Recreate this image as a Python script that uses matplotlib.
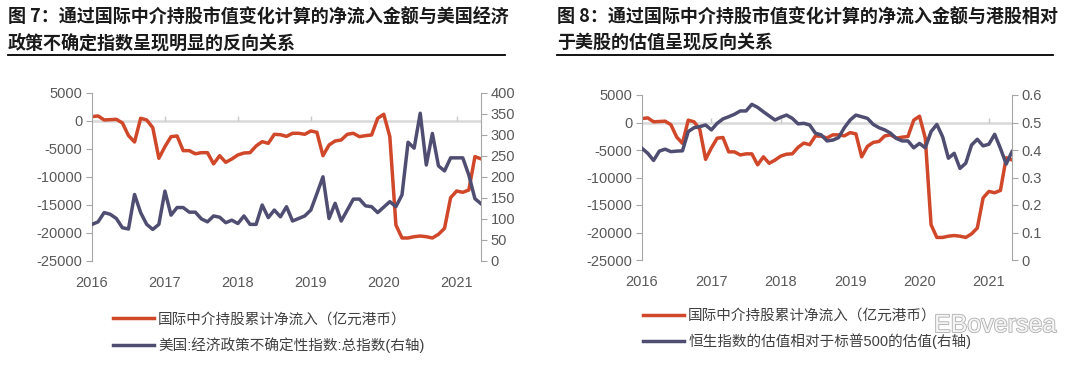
import matplotlib.pyplot as plt
import matplotlib.patheffects as pe
from matplotlib.lines import Line2D
import numpy as np

plt.rcParams['font.family'] = ['Liberation Sans', 'Noto Sans CJK SC', 'DejaVu Sans']
plt.rcParams['axes.unicode_minus'] = False

# monthly data, Jan 2016 .. May 2021
months = np.arange(65)
year_ticks = [0, 12, 24, 36, 48, 60]
year_labels = ['2016', '2017', '2018', '2019', '2020', '2021']

# 国际中介持股累计净流入（亿元港币）
net_inflow = [713, 840, 125, 180, 240, -400, -2650, -3800, 420, 125, -1250, -6700,
              -4630, -2850, -2730, -5340, -5340, -5900, -5700, -5700, -7700, -6240, -7420, -6830,
              -6110, -5760, -5700, -4510, -3740, -4040, -2430, -2500, -2800, -2250, -2250, -2430,
              -1840, -2070, -6240, -4330, -3620, -3440, -2430, -2250, -2850, -2670, -2550, 420,
              1140, -2850, -18590, -20900, -20900, -20670, -20550, -20670, -20900, -20250, -19180, -13720,
              -12530, -12770, -12350, -6410, -6800]

# 美国:经济政策不确定性指数:总指数
epu_index = [87, 93, 115, 111, 101, 79, 76, 158, 115, 87, 75, 87,
             166, 109, 127, 127, 116, 116, 100, 93, 107, 104, 91, 97,
             89, 107, 87, 87, 133, 103, 121, 105, 129, 95, 101, 107,
             121, 160, 200, 101, 137, 95, 121, 147, 147, 131, 129, 115,
             128, 141, 129, 157, 282, 268, 351, 228, 303, 226, 214, 245,
             245, 245, 204, 148, 136]

# 恒生指数的估值相对于标普500的估值
hsi_vs_spx = [0.406, 0.388, 0.362, 0.396, 0.403, 0.394, 0.396, 0.397, 0.467, 0.481, 0.485, 0.491,
              0.473, 0.497, 0.513, 0.521, 0.530, 0.542, 0.542, 0.566, 0.555, 0.539, 0.524, 0.509,
              0.519, 0.527, 0.515, 0.495, 0.497, 0.491, 0.461, 0.455, 0.433, 0.436, 0.445, 0.481,
              0.509, 0.527, 0.521, 0.515, 0.493, 0.481, 0.473, 0.461, 0.442, 0.433, 0.433, 0.408,
              0.424, 0.408, 0.467, 0.493, 0.448, 0.370, 0.388, 0.333, 0.352, 0.418, 0.439, 0.415,
              0.421, 0.457, 0.406, 0.349, 0.394]

red = '#D0472A'
navy = '#4F4E72'
grey = '#A6A6A6'
txt = '#595959'

fig = plt.figure(figsize=(10.8, 3.69), dpi=100)
W, H = 1080, 369


def panel(x0, x1, y0, y1, right_vals, right_lim, right_ticks, right_labels):
    ax = fig.add_axes([x0 / W, 1 - y1 / H, (x1 - x0) / W, (y1 - y0) / H])
    ax2 = ax.twinx()
    ax.axhline(0, color='#D9D9D9', lw=1.8, zorder=0)
    ax.vlines(year_ticks[1:], 0, 850, color='#C8C8C8', lw=1, zorder=0)
    l1, = ax.plot(months, net_inflow, color=red, lw=2.5, solid_joinstyle='round')
    l2, = ax2.plot(months, right_vals, color=navy, lw=2.5, solid_joinstyle='round')
    ax.set_xlim(0, 64)
    ax.set_ylim(-25000, 5000)
    ax.set_yticks(range(-25000, 5001, 5000))
    ax2.set_ylim(*right_lim)
    ax2.set_yticks(right_ticks)
    ax2.set_yticklabels(right_labels)
    ax.set_xticks(year_ticks)
    ax.set_xticklabels(year_labels)
    ax.tick_params(axis='x', length=0, pad=11, labelsize=10.5, labelcolor=txt)
    ax.tick_params(axis='y', length=4, color=grey, pad=3, labelsize=10.5, labelcolor=txt)
    ax2.tick_params(axis='y', length=4, color=grey, pad=3, labelsize=10.5, labelcolor=txt)
    for a in (ax, ax2):
        a.spines['top'].set_visible(False)
        a.spines['bottom'].set_visible(False)
        a.spines['left'].set_color(grey)
        a.spines['right'].set_color(grey)
    ax2.spines['left'].set_visible(False)
    ax.spines['right'].set_visible(False)
    return l1, l2


def title(x, lines, x_end):
    fig.text(x / W, 1 - 17 / H, lines[0], fontsize=13, fontweight='bold',
             color='#1a1a1a', va='center', family=['Noto Sans CJK SC', 'DejaVu Sans'])
    fig.text(x / W, 1 - 43 / H, lines[1], fontsize=13, fontweight='bold',
             color='#1a1a1a', va='center', family=['Noto Sans CJK SC', 'DejaVu Sans'])
    fig.add_artist(Line2D([x / W, x_end / W], [1 - 55 / H, 1 - 55 / H], color='black', lw=1.3))


def legend(handles, labels, x, y):
    fig.legend(handles, labels, loc='center left', bbox_to_anchor=(x / W, 1 - y / H),
               frameon=False, fontsize=10.5, handlelength=2.8, handletextpad=0.3,
               labelspacing=0.75, borderpad=0, borderaxespad=0, labelcolor='#404040')


# left chart
h = panel(92, 481, 92.6, 261, epu_index, (0, 400), range(0, 401, 50),
          [str(v) for v in range(0, 401, 50)])
title(8, ['图 7：通过国际中介持股市值变化计算的净流入金额与美国经济',
          '政策不确定指数呈现明显的反向关系'], 505)
legend(h, ['国际中介持股累计净流入（亿元港币）', '美国:经济政策不确定性指数:总指数(右轴)'], 113, 332.5)

# right chart
h = panel(642, 1012, 95, 260, hsi_vs_spx, (0, 0.6), np.arange(0, 0.61, 0.1),
          ['0', '0.1', '0.2', '0.3', '0.4', '0.5', '0.6'])
title(557, ['图 8：通过国际中介持股市值变化计算的净流入金额与港股相对',
            '于美股的估值呈现反向关系'], 1053)
legend(h, ['国际中介持股累计净流入（亿元港币）', '恒生指数的估值相对于标普500的估值(右轴)'], 643, 329)

# watermark
fig.text(934 / W, 1 - 325 / H, 'EBoversea', fontsize=18, color='#f4f4f4', va='center',
         path_effects=[pe.withStroke(linewidth=1.3, foreground='#b4b4b4')])

plt.savefig('out.png', dpi=100)
